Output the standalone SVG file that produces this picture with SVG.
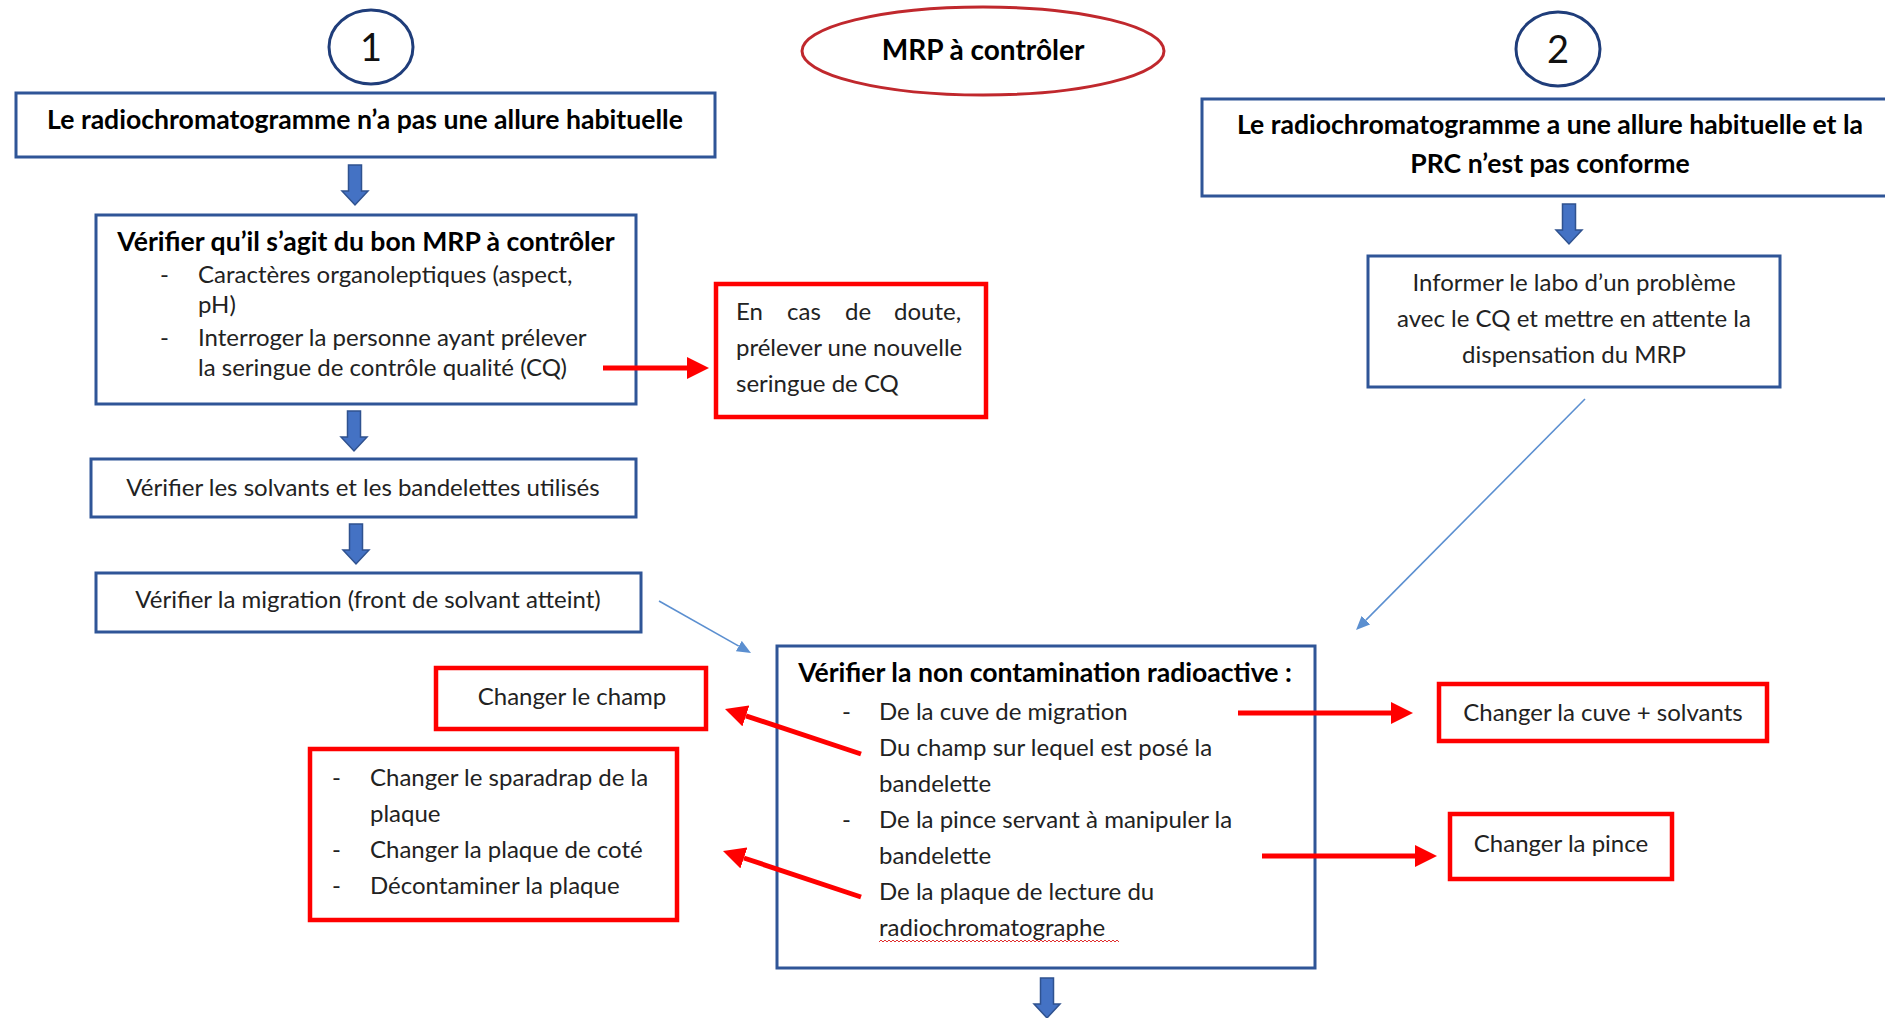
<svg xmlns="http://www.w3.org/2000/svg" width="1885" height="1018" viewBox="0 0 1885 1018">
<defs>
<style>
.bx{fill:#fff;stroke:#2F5597;stroke-width:3}
.rb{fill:#fff;stroke:#FF0000;stroke-width:4.5}
.el{fill:#fff;stroke:#1F3D7A;stroke-width:3}
.t{font-family:Lato,"Liberation Sans",sans-serif;font-size:24px;fill:#222}
.b{font-family:Lato,"Liberation Sans",sans-serif;font-size:26.6px;font-weight:bold;fill:#000}
.n{font-family:Lato,"Liberation Sans",sans-serif;font-size:38px;fill:#111;text-anchor:middle}
.c{text-anchor:middle}
.ra{stroke:#FF0000;stroke-width:5;fill:none;marker-end:url(#rh)}
.ba{stroke:#5B8FD0;stroke-width:1.6;fill:none;marker-end:url(#bh)}
.da{fill:#4472C4;stroke:#2F528F;stroke-width:1.5}
</style>
<marker id="rh" viewBox="0 -11 22 22" markerWidth="22" markerHeight="22" markerUnits="userSpaceOnUse" refX="0" refY="0" orient="auto">
<path d="M0,-11 L22,0 L0,11 Z" fill="#FF0000"/>
</marker>
<marker id="bh" viewBox="0 -6 14 12" markerWidth="14" markerHeight="12" markerUnits="userSpaceOnUse" refX="0" refY="0" orient="auto">
<path d="M0,-6 L14,0 L0,6 Z" fill="#5B8FD0"/>
</marker>
<path id="down" class="da" d="M-6.5,0 H6.5 V26 H13 L0,40 L-13,26 H-6.5 Z"/>
</defs>
<rect width="1885" height="1018" fill="#fff"/>

<g id="c1"><ellipse class="el" cx="371" cy="47" rx="42" ry="37"/><text class="n" x="371" y="61">1</text></g>
<g id="mrp"><ellipse cx="983" cy="51" rx="181" ry="44" fill="#fff" stroke="#C0282D" stroke-width="3"/><text class="b c" x="983" y="60" style="font-size:28px">MRP à contrôler</text></g>
<g id="c2"><ellipse class="el" cx="1558" cy="49" rx="42" ry="37"/><text class="n" x="1558" y="63">2</text></g>

<g id="n-allure"><rect class="bx" x="16" y="93" width="699" height="64"/><text class="b c" x="365" y="129">Le radiochromatogramme n’a pas une allure habituelle</text></g>

<g id="n-bonmrp"><rect class="bx" x="96" y="215" width="540" height="189"/>
<text class="b c" x="366" y="251">Vérifier qu’il s’agit du bon MRP à contrôler</text>
<text class="t" x="160" y="283">-</text><text class="t" x="198" y="283">Caractères organoleptiques (aspect,</text>
<text class="t" x="198" y="313">pH)</text>
<text class="t" x="160" y="346">-</text><text class="t" x="198" y="346">Interroger la personne ayant prélever</text>
<text class="t" x="198" y="376">la seringue de contrôle qualité (CQ)</text></g>

<g id="n-doute"><rect class="rb" x="716" y="284" width="270" height="133"/>
<text class="t" y="320"><tspan x="736">En</tspan><tspan x="787">cas</tspan><tspan x="845">de</tspan><tspan x="894">doute,</tspan></text>
<text class="t" x="736" y="356">prélever une nouvelle</text>
<text class="t" x="736" y="392">seringue de CQ</text></g>

<g id="n-solvants"><rect class="bx" x="91" y="459" width="545" height="58"/><text class="t c" x="363" y="496">Vérifier les solvants et les bandelettes utilisés</text></g>
<g id="n-migration"><rect class="bx" x="96" y="573" width="545" height="59"/><text class="t c" x="368" y="608">Vérifier la migration (front de solvant atteint)</text></g>

<g id="n-conforme"><rect class="bx" x="1202" y="99" width="700" height="97"/>
<text class="b c" x="1550" y="134">Le radiochromatogramme a une allure habituelle et la</text>
<text class="b c" x="1550" y="173">PRC n’est pas conforme</text></g>

<g id="n-informer"><rect class="bx" x="1368" y="256" width="412" height="131"/>
<text class="t c" x="1574" y="291">Informer le labo d’un problème</text>
<text class="t c" x="1574" y="327">avec le CQ et mettre en attente la</text>
<text class="t c" x="1574" y="363">dispensation du MRP</text></g>

<g id="n-contam"><rect class="bx" x="777" y="646" width="538" height="322"/>
<text class="b c" x="1045" y="682">Vérifier la non contamination radioactive :</text>
<text class="t" x="842" y="720">-</text><text class="t" x="879" y="720">De la cuve de migration</text>
<text class="t" x="879" y="756">Du champ sur lequel est posé la</text>
<text class="t" x="879" y="792">bandelette</text>
<text class="t" x="842" y="828">-</text><text class="t" x="879" y="828">De la pince servant à manipuler la</text>
<text class="t" x="879" y="864">bandelette</text>
<text class="t" x="879" y="900">De la plaque de lecture du</text>
<text class="t" x="879" y="936">radiochromatographe</text>
<path d="M879,942 l2,-2 l2,2 l2,-2 l2,2 l2,-2 l2,2 l2,-2 l2,2 l2,-2 l2,2 l2,-2 l2,2 l2,-2 l2,2 l2,-2 l2,2 l2,-2 l2,2 l2,-2 l2,2 l2,-2 l2,2 l2,-2 l2,2 l2,-2 l2,2 l2,-2 l2,2 l2,-2 l2,2 l2,-2 l2,2 l2,-2 l2,2 l2,-2 l2,2 l2,-2 l2,2 l2,-2 l2,2 l2,-2 l2,2 l2,-2 l2,2 l2,-2 l2,2 l2,-2 l2,2 l2,-2 l2,2 l2,-2 l2,2 l2,-2 l2,2 l2,-2 l2,2 l2,-2 l2,2 l2,-2 l2,2 l2,-2 l2,2 l2,-2 l2,2 l2,-2 l2,2 l2,-2 l2,2 l2,-2 l2,2 l2,-2 l2,2 l2,-2 l2,2 l2,-2 l2,2 l2,-2 l2,2 l2,-2 l2,2 l2,-2 l2,2 l2,-2 l2,2 l2,-2 l2,2 l2,-2 l2,2 l2,-2 l2,2 l2,-2 l2,2 l2,-2 l2,2 l2,-2 l2,2 l2,-2 l2,2 l2,-2 l2,2 l2,-2 l2,2 l2,-2 l2,2 l2,-2 l2,2 l2,-2 l2,2 l2,-2 l2,2 l2,-2 l2,2 l2,-2 l2,2 l2,-2 l2,2 l2,-2 l2,2 l2,-2 l2,2" fill="none" stroke="#E03030" stroke-width="1"/></g>

<g id="n-champ"><rect class="rb" x="436" y="668" width="270" height="61"/><text class="t c" x="572" y="705">Changer le champ</text></g>
<g id="n-plaque"><rect class="rb" x="310" y="749" width="367" height="171"/>
<text class="t" x="332" y="786">-</text><text class="t" x="370" y="786">Changer le sparadrap de la</text>
<text class="t" x="370" y="822">plaque</text>
<text class="t" x="332" y="858">-</text><text class="t" x="370" y="858">Changer la plaque de coté</text>
<text class="t" x="332" y="894">-</text><text class="t" x="370" y="894">Décontaminer la plaque</text></g>
<g id="n-cuve"><rect class="rb" x="1439" y="684" width="328" height="57"/><text class="t c" x="1603" y="721">Changer la cuve + solvants</text></g>
<g id="n-pince"><rect class="rb" x="1450" y="814" width="222" height="65"/><text class="t c" x="1561" y="852">Changer la pince</text></g>

<g id="connectors">
<use href="#down" x="355" y="165"/>
<use href="#down" x="354" y="411"/>
<use href="#down" x="356" y="524"/>
<use href="#down" x="1569" y="204"/>
<use href="#down" x="1047" y="978"/>
<line class="ra" x1="603" y1="368" x2="687" y2="368"/>
<line class="ra" x1="861" y1="754" x2="745.9" y2="715.9"/>
<line class="ra" x1="861" y1="897" x2="743.9" y2="858"/>
<line class="ra" x1="1238" y1="713" x2="1391" y2="713"/>
<line class="ra" x1="1262" y1="856" x2="1415" y2="856"/>
<line class="ba" x1="659" y1="601" x2="738.8" y2="646.1"/>
<line class="ba" x1="1585" y1="399" x2="1365.9" y2="620.1"/>
</g>
</svg>
